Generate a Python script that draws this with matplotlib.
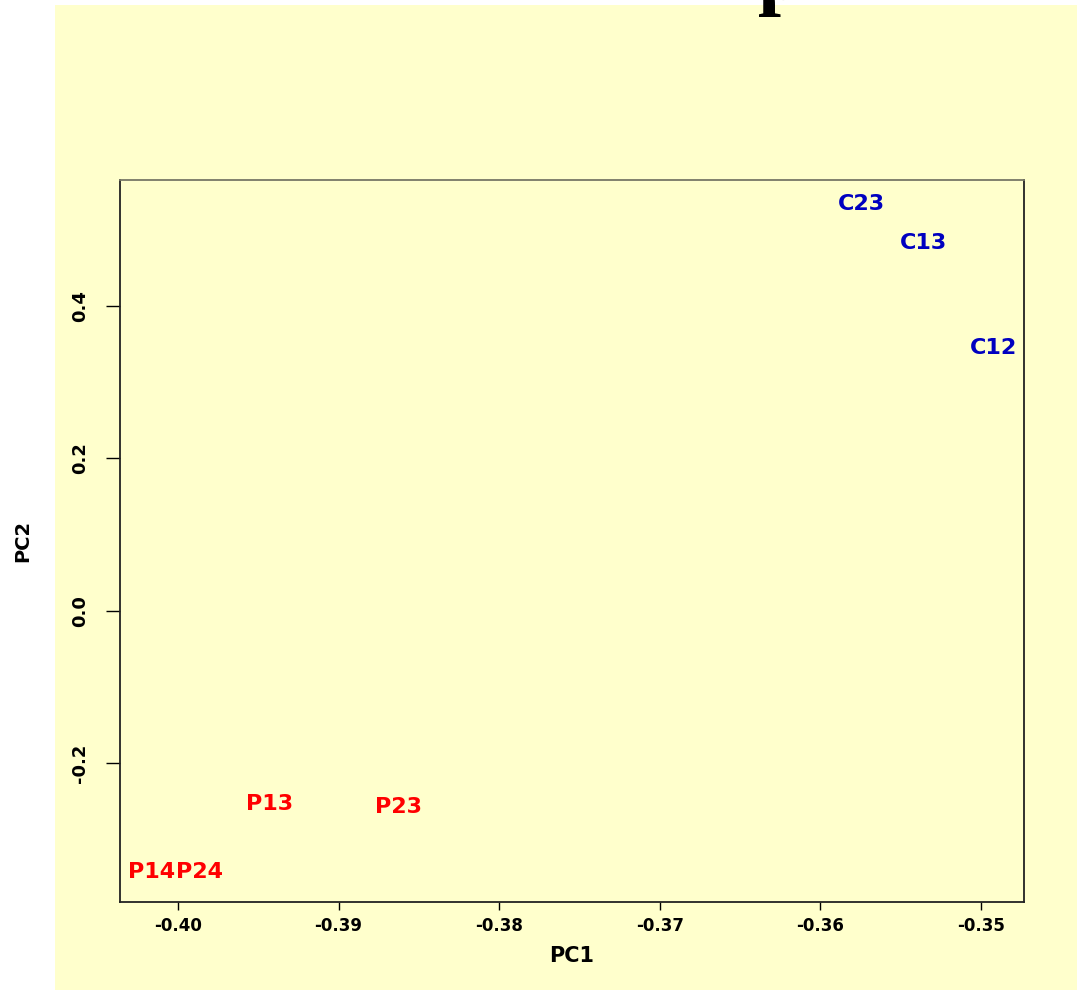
import matplotlib
matplotlib.use("Agg")
import matplotlib.pyplot as plt
from matplotlib.patches import Rectangle
from matplotlib import font_manager

# ---- data ----
labels = ["C23", "C13", "C12", "P13", "P23", "P14", "P24"]
pc1 = [-0.35744, -0.35356, -0.34919, -0.39431, -0.38625, -0.40163, -0.39869]
pc2 = [0.534, 0.4827, 0.3449, -0.2538, -0.2578, -0.3431, -0.3431]
groups = ["C", "C", "C", "P", "P", "P", "P"]
group_colors = {"C": "#0000C0", "P": "#FF0000"}
xticks = [-0.40, -0.39, -0.38, -0.37, -0.36, -0.35]
xticklabels = ["-0.40", "-0.39", "-0.38", "-0.37", "-0.36", "-0.35"]
yticks = [-0.2, 0.0, 0.2, 0.4]
yticklabels = ["-0.2", "0.0", "0.2", "0.4"]

available = {f.name for f in font_manager.fontManager.ttflist}
narrow = ["Liberation Sans Narrow", "DejaVu Sans"] if "Liberation Sans Narrow" in available else ["DejaVu Sans"]

W, H = 1077, 990
fig = plt.figure(figsize=(W / 100, H / 100), dpi=100, facecolor="white")
bg = "#FFFFCC"
fig.patches.append(Rectangle((55 / W, 0), 1 - 55 / W, 1 - 5 / H, transform=fig.transFigure,
                             facecolor=bg, edgecolor="none", zorder=-10))

ax = fig.add_axes([120 / W, 1 - 902 / H, (1024 - 120) / W, (902 - 180) / H])
ax.set_facecolor(bg)
ax.set_xlim(-0.403611, -0.347322)
ax.set_ylim(-0.3825, 0.5655)

for lab, x, y, g in zip(labels, pc1, pc2, groups):
    ax.text(x, y, lab, color=group_colors[g], ha="center", va="center",
            fontsize=16, fontweight="bold", family="DejaVu Sans")

ax.set_xticks(xticks)
ax.set_xticklabels(xticklabels, fontsize=12, fontweight="bold", family="DejaVu Sans")
ax.set_yticks(yticks)
ax.set_yticklabels(yticklabels, fontsize=13, fontweight="bold", family=narrow,
                   rotation=90, va="center")
ax.tick_params(axis="x", direction="out", length=6, width=1, pad=5)
ax.tick_params(axis="y", direction="out", length=10, width=1, pad=12)

for s in ax.spines.values():
    s.set_color("#222222")
    s.set_linewidth(1.3)
ax.spines["top"].set_color("#777766")

ax.set_xlabel("PC1", fontsize=15, fontweight="bold", family="DejaVu Sans")
ax.xaxis.set_label_coords(0.5, (902 - 946) / (902 - 180))
ax.set_ylabel("PC2", fontsize=14, fontweight="bold", family=narrow)
ax.yaxis.set_label_coords((32 - 120) / (1024 - 120), 0.5)

# clipped title (only the descender shows in the reference)
fig.text(758 / W, 1 + 1 / H, "p", family=["Liberation Serif", "DejaVu Serif"],
         fontweight="bold", fontsize=60, ha="left", va="baseline", color="black")

fig.savefig("out.png", dpi=100, facecolor="white")
